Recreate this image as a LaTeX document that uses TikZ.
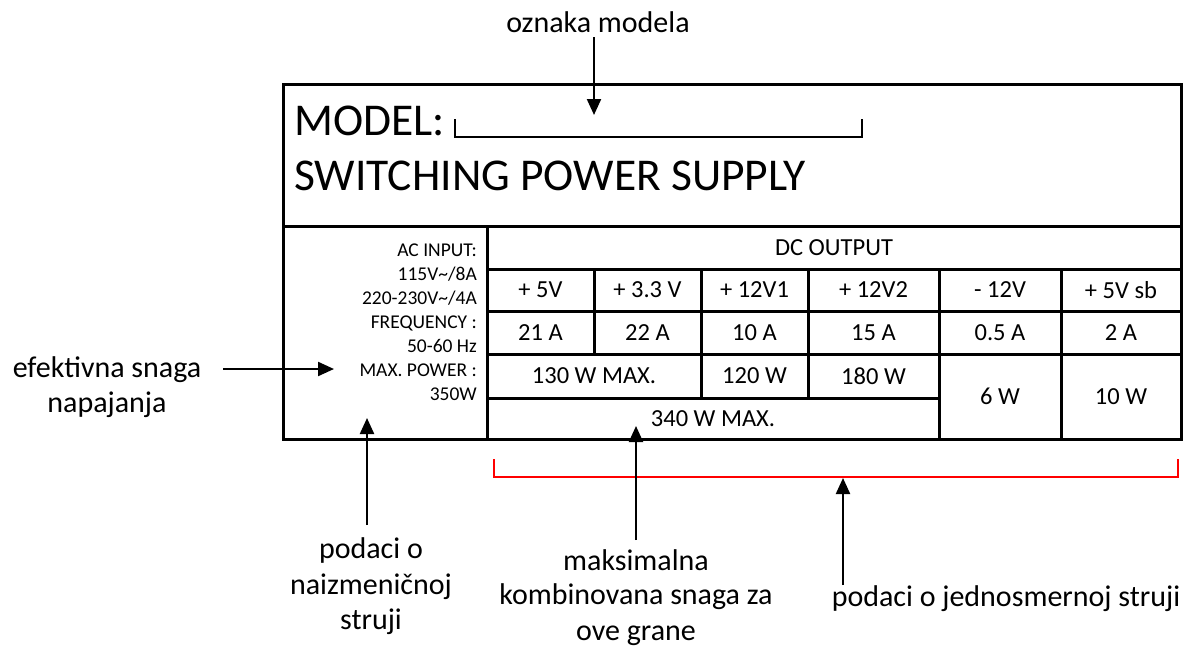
\documentclass[tikz,border=0pt]{standalone}
\usepackage{fontspec}
\setmainfont{Carlito}
\usetikzlibrary{arrows.meta}
\begin{document}
\begin{tikzpicture}[x=1pt,y=-1pt,
  frame/.style={draw, line width=3pt, inner sep=0pt},
  cellbox/.style={draw, line width=3pt, inner sep=0pt, font=\fontsize{24.5}{29}\selectfont},
  actext/.style={inner sep=0pt, anchor=base east, font=\fontsize{19.5}{23}\selectfont},
  hdrtext/.style={inner sep=0pt, anchor=base west, font=\fontsize{45.5}{52}\selectfont},
  ann/.style={inner sep=0pt, anchor=base, font=\fontsize{30}{35}\selectfont},
  pointer/.style={line width=2.2pt, -{Triangle[length=16pt,width=14pt]}},
  bracketline/.style={line width=2.2pt},
  redbracket/.style={line width=2.2pt, draw={rgb,255:red,255;green,0;blue,0}}
]
\useasboundingbox (0,0) rectangle (1189,648);

% outer frame parts
\node[frame, minimum width=898pt, minimum height=142pt] (top) at (732,155) {};
\node[frame, minimum width=204pt, minimum height=213pt] (ac) at (385,332.5) {};

% header texts
\node[hdrtext] (model) at (294,135) {MODEL:};
\node[hdrtext] (sps) at (294,190) {SWITCHING POWER SUPPLY};
\coordinate (mb1) at (455,119);
\coordinate (mb2) at (455,137);
\coordinate (mb3) at (862,137);
\coordinate (mb4) at (862,119);
\draw[bracketline] (mb1) -- (mb2) -- (mb3) -- (mb4);

% AC input column
\foreach \t [count=\i] in {AC INPUT:, 115V\textasciitilde/8A, 220-230V\textasciitilde/4A, FREQUENCY :, 50-60 Hz, MAX. POWER :, 350W}
  \node[actext] (ac\i) at (477,232+24*\i) {\t};

% DC output table
\node[cellbox, minimum width=694pt, minimum height=43pt] (dc) at (834,247.5) {DC OUTPUT};
\node[cellbox, minimum width=107pt, minimum height=42pt] (v1) at (540.5,290) {+ 5V};
\node[cellbox, minimum width=107pt, minimum height=42pt] (v2) at (647.5,290) {+ 3.3 V};
\node[cellbox, minimum width=107pt, minimum height=42pt] (v3) at (754.5,290) {+ 12V1};
\node[cellbox, minimum width=131pt, minimum height=42pt] (v4) at (873.5,290) {+ 12V2};
\node[cellbox, minimum width=122pt, minimum height=42pt] (v5) at (1000,290) {- 12V};
\node[cellbox, minimum width=120pt, minimum height=42pt] (v6) at (1121,290) {+ 5V sb};
\node[cellbox, minimum width=107pt, minimum height=43pt] (a1) at (540.5,332.5) {21 A};
\node[cellbox, minimum width=107pt, minimum height=43pt] (a2) at (647.5,332.5) {22 A};
\node[cellbox, minimum width=107pt, minimum height=43pt] (a3) at (754.5,332.5) {10 A};
\node[cellbox, minimum width=131pt, minimum height=43pt] (a4) at (873.5,332.5) {15 A};
\node[cellbox, minimum width=122pt, minimum height=43pt] (a5) at (1000,332.5) {0.5 A};
\node[cellbox, minimum width=120pt, minimum height=43pt] (a6) at (1121,332.5) {2 A};
\node[cellbox, minimum width=214pt, minimum height=44pt] (p12) at (594,376) {130 W MAX.};
\node[cellbox, minimum width=107pt, minimum height=44pt] (p3) at (754.5,376) {120 W};
\node[cellbox, minimum width=131pt, minimum height=44pt] (p4) at (873.5,376) {180 W};
\node[cellbox, minimum width=452pt, minimum height=41pt] (p0) at (713,418.5) {340 W MAX.};
\node[cellbox, minimum width=122pt, minimum height=85pt] (p5) at (1000,396.5) {6 W};
\node[cellbox, minimum width=120pt, minimum height=85pt] (p6) at (1121,396.5) {10 W};

% red bracket
\coordinate (rb1) at (494,459);
\coordinate (rb2) at (494,477);
\coordinate (rb3) at (1178,477);
\coordinate (rb4) at (1178,459);
\draw[redbracket] (rb1) -- (rb2) -- (rb3) -- (rb4);

% annotations
\node[ann] (oz) at (598,32) {oznaka modela};
\node[ann] (ef1) at (107,377) {efektivna snaga};
\node[ann] (ef2) at (107,412) {napajanja};
\node[ann] (nz1) at (371,558) {podaci o};
\node[ann] (nz2) at (371,594) {naizmeničnoj};
\node[ann] (nz3) at (371,629) {struji};
\node[ann] (mk1) at (636,570) {maksimalna};
\node[ann] (mk2) at (636,604) {kombinovana snaga za};
\node[ann] (mk3) at (636,640) {ove grane};
\node[ann] (jd) at (1006,606) {podaci o jednosmernoj struji};

% pointer arrows
\coordinate (ozA) at (594,37);   \coordinate (ozB) at (594,115);
\coordinate (efA) at (223,369);  \coordinate (efB) at (334,369);
\coordinate (nzA) at (367,525);  \coordinate (nzB) at (367,418);
\coordinate (mkA) at (636,540);  \coordinate (mkB) at (636,426);
\coordinate (jdA) at (843,585);  \coordinate (jdB) at (843,478);
\draw[pointer] (ozA) -- (ozB);
\draw[pointer] (efA) -- (efB);
\draw[pointer] (nzA) -- (nzB);
\draw[pointer] (mkA) -- (mkB);
\draw[pointer] (jdA) -- (jdB);
\end{tikzpicture}
\end{document}
